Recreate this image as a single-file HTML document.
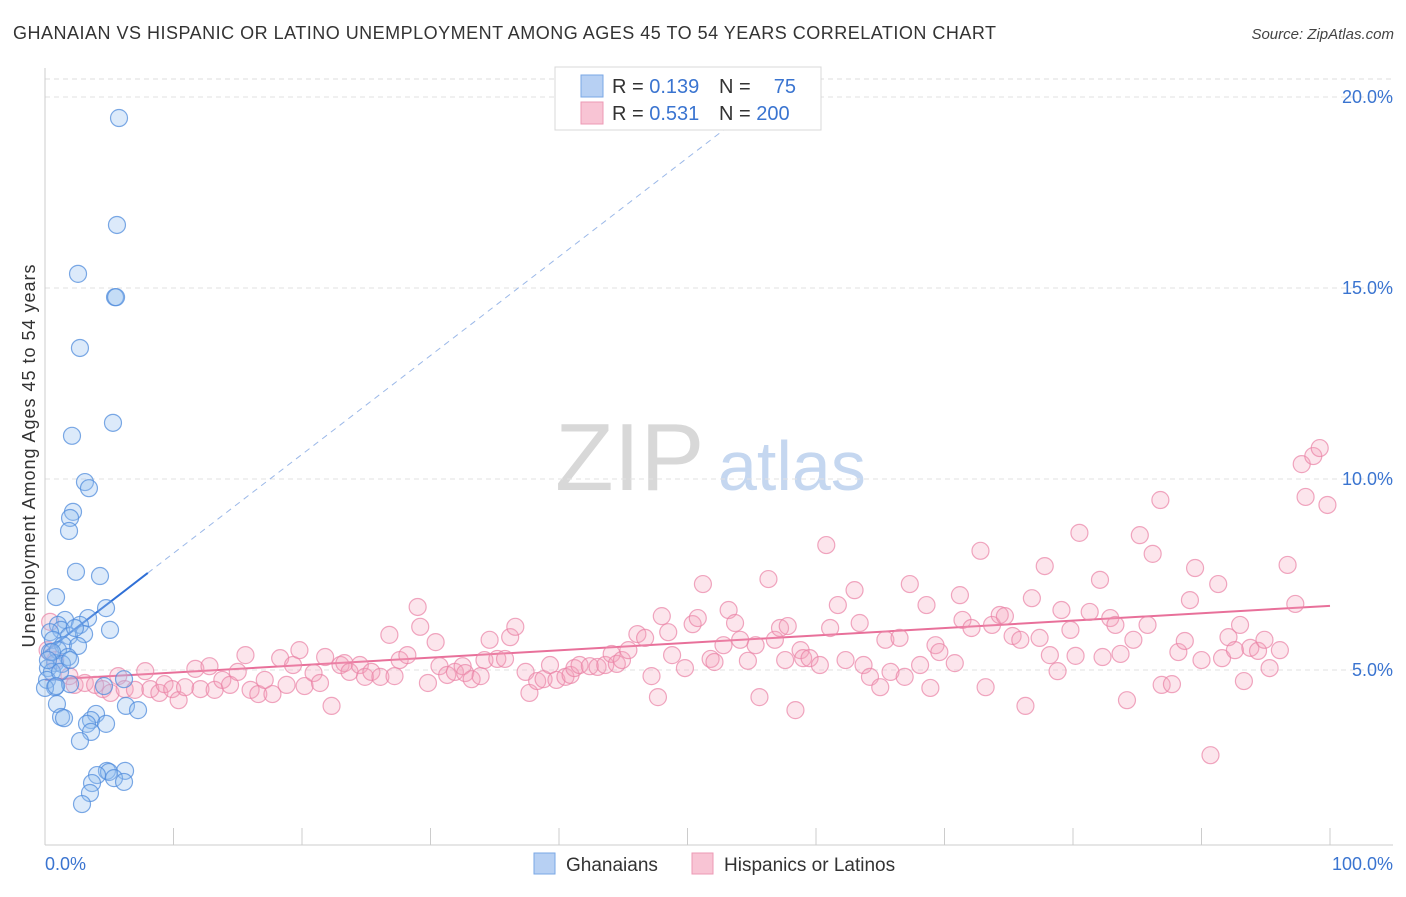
<!DOCTYPE html>
<html><head><meta charset="utf-8"><style>
body{margin:0;background:#fff;font-family:"Liberation Sans",sans-serif;}
svg text{font-family:"Liberation Sans",sans-serif;}
</style></head><body>
<svg id="chart" width="1406" height="892" xmlns="http://www.w3.org/2000/svg">
<text x="13" y="39" font-size="18" fill="#333" textLength="983" lengthAdjust="spacing">GHANAIAN VS HISPANIC OR LATINO UNEMPLOYMENT AMONG AGES 45 TO 54 YEARS CORRELATION CHART</text>
<text x="1394" y="39" font-size="15" fill="#444" font-style="italic" text-anchor="end">Source: ZipAtlas.com</text>
<g>
<text x="555" y="490" font-size="96" fill="#d8d8d8" font-family="Liberation Serif,serif">ZIP</text>
<text x="718" y="490" font-size="70" fill="#c5d7f0">atlas</text>
</g>
<g id="grid"></g>
<g id="axes"></g>
<g id="trend"></g>
<g id="pts"></g>
<g>
<rect x="555" y="67" width="266" height="63" fill="#fff" stroke="#d8d8d8"/>
<rect x="581" y="75" width="22" height="22" fill="#b7d0f3" stroke="#7aa7e6"/>
<rect x="581" y="102" width="22" height="22" fill="#f8c4d4" stroke="#ec9ab5"/>
<text x="612" y="93" font-size="20" fill="#333">R = <tspan fill="#3a74d0">0.139</tspan></text>
<text x="719" y="93" font-size="20" fill="#333">N =</text>
<text x="796" y="93" font-size="20" fill="#3a74d0" text-anchor="end">75</text>
<text x="612" y="120" font-size="20" fill="#333">R = <tspan fill="#3a74d0">0.531</tspan></text>
<text x="719" y="120" font-size="20" fill="#333">N = <tspan fill="#3a74d0">200</tspan></text>
</g>
<g>
<rect x="534" y="853" width="21" height="21" fill="#b7d0f3" stroke="#7aa7e6"/>
<text x="566" y="871" font-size="19" fill="#333">Ghanaians</text>
<rect x="692" y="853" width="21" height="21" fill="#f8c4d4" stroke="#ec9ab5"/>
<text x="724" y="871" font-size="19" fill="#333">Hispanics or Latinos</text>
</g>
</svg>
<script>
const yTicks=[5,10,15,20];
const xTickLabels=["0.0%","100.0%"];
const blueX=[5.76,5.6,2.57,5.45,5.53,2.72,2.1,5.29,3.11,3.42,2.18,1.95,1.87,2.41,4.28,0.86,4.75,3.35,1.56,1.01,2.72,5.06,1.25,0.39,1.87,3.04,2.33,0.62,1.4,2.57,0.39,1.01,1.79,0.78,0.23,1.32,0.54,0.16,0.78,1.95,0.0,6.15,4.59,0.93,6.3,7.24,1.25,3.97,1.48,3.58,3.27,4.75,3.58,2.72,6.23,4.82,4.98,4.05,5.37,3.66,6.15,3.5,2.88,0.54,0.23,1.17,1.95,0.86];
const blueY=[19.45,16.65,15.37,14.76,14.76,13.43,11.13,11.47,9.92,9.76,9.14,8.98,8.64,7.57,7.46,6.91,6.62,6.36,6.31,6.18,6.18,6.05,6.05,5.99,5.89,5.94,6.1,5.79,5.65,5.63,5.47,5.52,5.34,5.18,5.05,5.16,4.95,4.74,4.55,4.63,4.53,4.76,4.58,4.11,4.06,3.95,3.77,3.85,3.74,3.69,3.59,3.59,3.38,3.14,2.36,2.36,2.33,2.25,2.17,2.04,2.07,1.78,1.49,5.47,5.26,4.95,5.26,4.58];
const pinkX=[0.4,0.2,0.8,1.9,2.3,3.1,3.9,4.5,5.1,5.7,6.2,7.0,7.8,8.2,8.9,9.3,9.9,10.4,10.9,11.7,12.1,12.8,13.2,13.8,14.4,15.0,15.6,16.0,16.6,17.1,17.7,18.3,18.8,19.3,19.8,20.2,20.9,21.4,21.8,22.3,23.0,23.3,23.7,24.5,24.9,25.4,26.1,26.8,27.2,27.6,28.2,29.0,29.2,29.8,30.4,30.7,31.3,31.9,32.5,32.7,33.2,33.9,34.2,34.6,35.2,35.8,36.2,36.6,37.4,37.7,38.3,38.8,39.3,39.8,40.5,40.9,41.2,41.6,42.4,43.0,43.6,44.1,44.5,44.9,45.4,46.1,46.7,47.2,47.7,48.0,48.5,48.8,49.8,50.4,50.8,51.2,51.8,52.1,52.8,53.2,53.7,54.1,54.7,55.3,55.6,56.3,56.8,57.2,57.6,57.8,58.4,58.8,59.0,59.5,60.3,60.8,61.1,61.7,62.3,63.0,63.4,63.7,64.2,65.0,65.4,65.8,66.5,66.9,67.3,68.1,68.6,68.9,69.3,69.6,70.8,71.2,71.4,72.1,72.8,73.2,73.7,74.3,74.7,75.3,75.9,76.3,76.8,77.4,77.8,78.2,78.8,79.1,79.8,80.2,80.5,81.3,82.1,82.3,82.9,83.3,83.7,84.2,84.7,85.2,85.8,86.2,86.8,86.9,87.7,88.2,88.7,89.1,89.5,90.0,90.7,91.3,91.6,92.1,92.6,93.0,93.3,93.8,94.4,94.9,95.3,96.1,96.7,97.3,97.8,98.1,98.7,99.2,99.8];
const pinkY=[6.26,5.52,5.26,4.84,4.61,4.66,4.61,4.5,4.4,4.84,4.5,4.48,4.97,4.5,4.4,4.63,4.5,4.21,4.55,5.03,4.5,5.1,4.48,4.74,4.61,4.95,5.39,4.48,4.37,4.74,4.37,5.31,4.61,5.13,5.52,4.58,4.92,4.66,5.34,4.06,5.13,5.18,4.95,5.13,4.82,4.95,4.82,5.92,4.84,5.26,5.39,6.65,6.13,4.66,5.73,5.1,4.87,4.95,5.1,4.92,4.76,4.84,5.26,5.79,5.29,5.29,5.86,6.13,4.95,4.4,4.71,4.76,5.13,4.74,4.82,4.87,5.05,5.13,5.1,5.08,5.13,5.42,5.16,5.26,5.52,5.94,5.84,4.84,4.29,6.41,5.99,5.39,5.05,6.2,6.36,7.25,5.29,5.21,5.65,6.57,6.23,5.79,5.24,5.65,4.29,7.38,5.79,6.1,5.26,6.15,3.95,5.52,5.31,5.31,5.13,8.27,6.1,6.7,5.26,7.09,6.23,5.13,4.82,4.55,5.79,4.95,5.84,4.82,7.25,5.13,6.7,4.53,5.65,5.47,5.18,6.96,6.31,6.1,8.12,4.55,6.18,6.44,6.41,5.89,5.79,4.06,6.88,5.84,7.72,5.39,4.97,6.57,6.05,5.37,8.59,6.52,7.36,5.34,6.36,6.18,5.42,4.21,5.79,8.53,6.18,8.04,9.45,4.61,4.63,5.47,5.76,6.83,7.67,5.26,2.77,7.25,5.31,5.86,5.52,6.18,4.71,5.58,5.5,5.79,5.05,5.52,7.75,6.73,10.39,9.53,10.6,10.81,9.32];
const blueTrendX=[0,8];
const blueTrendY=[5.47,7.54];
const blueDashEndX=[8,56.5];
const pinkTrendX=[0,100];
const pinkTrendY=[4.74,6.68];

const NS="http://www.w3.org/2000/svg";
const X0=45,X100=1330,Y0=861,YPER=38.2;
const sx=v=>X0+(X100-X0)*v/100;
const sy=v=>Y0-v*YPER;
function mk(tag,attrs,parent){const e=document.createElementNS(NS,tag);for(const k in attrs)e.setAttribute(k,attrs[k]);parent.appendChild(e);return e;}
const grid=document.getElementById('grid'),axes=document.getElementById('axes'),trend=document.getElementById('trend'),pts=document.getElementById('pts');
mk('line',{x1:45,x2:1393,y1:79,y2:79,stroke:'#ddd','stroke-dasharray':'5,4'},grid);
yTicks.forEach(t=>{
 const l=mk('line',{x1:45,x2:1393,y1:sy(t),y2:sy(t),stroke:'#e2e2e2','stroke-dasharray':'5,4'},grid);
 
 
 const tx=mk('text',{x:1393,y:sy(t)+6,'font-size':18,fill:'#3a74d0','text-anchor':'end'},axes);
 tx.textContent=t.toFixed(1)+'%';
 
 
});
mk('line',{x1:45,x2:45,y1:68,y2:845,stroke:'#ccc'},axes);
mk('line',{x1:45,x2:1393,y1:845,y2:845,stroke:'#ccc'},axes);
for(let i=1;i<=10;i++){mk('line',{x1:sx(i*10),x2:sx(i*10),y1:828,y2:845,stroke:'#ccc'},axes);}
const xl0=mk('text',{x:45,y:870,'font-size':18,fill:'#3a74d0'},axes);xl0.textContent=xTickLabels[0];


const xl1=mk('text',{x:1393,y:870,'font-size':18,fill:'#3a74d0','text-anchor':'end'},axes);xl1.textContent=xTickLabels[1];


const yt=mk('text',{x:0,y:0,'font-size':18,fill:'#333','text-anchor':'middle',textLength:383,lengthAdjust:'spacing',transform:'translate(35,456) rotate(-90)'},axes);
yt.textContent='Unemployment Among Ages 45 to 54 years';


pinkX.forEach((x,i)=>{
 const c=mk('circle',{cx:sx(x),cy:sy(pinkY[i]),r:8.5,fill:'rgba(244,160,188,0.28)',stroke:'rgba(234,130,165,0.7)','stroke-width':1.2},pts);
 
 
});
blueX.forEach((x,i)=>{
 const c=mk('circle',{cx:sx(x),cy:sy(blueY[i]),r:8.5,fill:'rgba(150,190,240,0.33)',stroke:'rgba(80,140,220,0.75)','stroke-width':1.2},pts);
 
 
});
const bslope=(blueTrendY[1]-blueTrendY[0])/(blueTrendX[1]-blueTrendX[0]);
const bd=mk('line',{x1:sx(blueDashEndX[0]),y1:sy(blueTrendY[1]),x2:sx(blueDashEndX[1]),y2:sy(blueTrendY[0]+bslope*blueDashEndX[1]),stroke:'#9bb8e8','stroke-width':1,'stroke-dasharray':'6,5'},trend);


const bl=mk('line',{x1:sx(blueTrendX[0]),y1:sy(blueTrendY[0]),x2:sx(blueTrendX[1]),y2:sy(blueTrendY[1]),stroke:'#2f6fd6','stroke-width':2},trend);


const pl=mk('line',{x1:sx(pinkTrendX[0]),y1:sy(pinkTrendY[0]),x2:sx(pinkTrendX[1]),y2:sy(pinkTrendY[1]),stroke:'#e8709a','stroke-width':2},trend);


</script>
</body></html>
